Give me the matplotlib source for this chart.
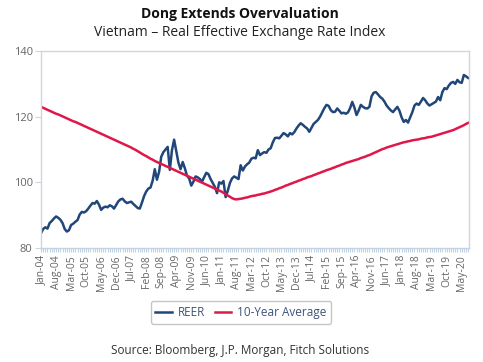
import matplotlib.pyplot as plt
from matplotlib.ticker import MultipleLocator

# monthly data, Jan-04 .. Aug-20
reer = [84.5, 85.8, 86.3, 85.9, 87.6, 88.2, 89.0, 89.6, 89.2, 88.6,
        87.6, 85.8, 85.0, 85.4, 87.0, 87.4, 88.0, 88.5, 90.2, 91.0,
        90.8, 91.2, 92.0, 92.9, 93.7, 93.5, 94.3, 93.2, 91.6, 92.3,
        92.6, 92.4, 93.0, 92.7, 92.0, 93.1, 94.2, 94.8, 95.0, 94.2,
        93.7, 93.9, 94.1, 93.4, 92.8, 92.2, 92.0, 93.8, 95.8, 97.2,
        98.1, 98.4, 100.5, 104.0, 100.8, 103.2, 107.8, 109.2, 110.0, 110.8,
        103.8, 109.8, 113.0, 109.5, 106.0, 104.0, 106.2, 104.3, 102.0, 101.2,
        99.0, 100.2, 101.8, 101.5, 101.0, 100.2, 101.6, 102.9, 102.5, 101.0,
        99.8, 98.6, 96.7, 100.0, 99.6, 100.4, 95.5, 97.4, 99.8, 101.2,
        101.8, 101.4, 101.0, 105.2, 103.6, 104.8, 105.5, 106.0, 107.2, 107.5,
        107.3, 109.8, 108.3, 108.8, 109.2, 109.0, 110.0, 110.4, 112.2, 113.5,
        113.6, 113.4, 114.2, 115.0, 114.6, 114.0, 115.0, 114.6, 115.3, 116.4,
        117.3, 118.0, 117.5, 116.9, 116.4, 115.4, 116.6, 117.8, 118.4, 119.0,
        120.0, 121.3, 122.6, 123.6, 123.3, 122.0, 121.4, 121.5, 122.5, 121.8,
        121.0, 121.2, 120.9, 121.3, 122.6, 124.5, 122.8, 120.5, 121.9, 123.6,
        123.0, 122.6, 122.5, 123.0, 126.2, 127.3, 127.5, 126.8, 126.0, 125.5,
        124.6, 123.4, 122.6, 121.9, 121.4, 122.2, 123.0, 121.8, 119.8, 118.4,
        119.0, 118.2, 119.8, 121.4, 123.4, 124.0, 123.6, 124.6, 125.7, 125.0,
        124.0, 123.4, 123.8, 124.2, 124.6, 126.0, 125.0, 127.5, 128.7, 128.4,
        129.5, 130.3, 130.6, 130.0, 131.2, 130.5, 130.3, 132.7, 132.3, 131.8]

avg10 = [123.0, 122.7, 122.4, 122.1, 121.8, 121.5, 121.2, 120.9, 120.7, 120.4,
         120.1, 119.8, 119.5, 119.2, 118.9, 118.6, 118.4, 118.1, 117.8, 117.5,
         117.2, 116.9, 116.6, 116.3, 116.0, 115.7, 115.4, 115.1, 114.8, 114.5,
         114.2, 113.9, 113.6, 113.3, 113.0, 112.7, 112.4, 112.1, 111.8, 111.5,
         111.2, 110.9, 110.6, 110.2, 109.9, 109.5, 109.1, 108.7, 108.3, 108.0,
         107.6, 107.2, 106.9, 106.5, 106.2, 105.9, 105.6, 105.3, 105.0, 104.7,
         104.4, 104.1, 103.8, 103.5, 103.2, 102.9, 102.6, 102.3, 102.0, 101.7,
         101.4, 101.1, 100.8, 100.5, 100.2, 99.9, 99.6, 99.3, 99.0, 98.7,
         98.4, 98.1, 97.8, 97.5, 97.2, 96.8, 96.4, 96.0, 95.6, 95.2,
         94.9, 94.8, 94.9, 95.0, 95.1, 95.3, 95.4, 95.6, 95.8, 95.9,
         96.0, 96.2, 96.3, 96.5, 96.6, 96.8, 97.0, 97.2, 97.4, 97.7,
         97.9, 98.2, 98.4, 98.7, 99.0, 99.2, 99.5, 99.7, 100.0, 100.2,
         100.5, 100.7, 101.0, 101.2, 101.5, 101.7, 101.9, 102.2, 102.4, 102.7,
         102.9, 103.2, 103.4, 103.7, 103.9, 104.1, 104.4, 104.6, 104.9, 105.1,
         105.4, 105.6, 105.9, 106.1, 106.3, 106.5, 106.7, 106.9, 107.1, 107.4,
         107.6, 107.8, 108.1, 108.3, 108.6, 108.9, 109.2, 109.5, 109.8, 110.1,
         110.3, 110.6, 110.8, 111.0, 111.2, 111.4, 111.6, 111.8, 112.0, 112.2,
         112.3, 112.5, 112.6, 112.8, 112.9, 113.0, 113.1, 113.3, 113.4, 113.5,
         113.7, 113.8, 113.9, 114.1, 114.3, 114.5, 114.7, 114.9, 115.1, 115.3,
         115.5, 115.7, 115.9, 116.2, 116.5, 116.8, 117.1, 117.4, 117.8, 118.1]

tick_labels = ["Jan-04", "Aug-04", "Mar-05", "Oct-05", "May-06", "Dec-06", "Jul-07",
               "Feb-08", "Sep-08", "Apr-09", "Nov-09", "Jun-10", "Jan-11", "Aug-11",
               "Mar-12", "Oct-12", "May-13", "Dec-13", "Jul-14", "Feb-15", "Sep-15",
               "Apr-16", "Nov-16", "Jun-17", "Jan-18", "Aug-18", "Mar-19", "Oct-19",
               "May-20"]

plt.rcParams['font.family'] = ['Open Sans', 'DejaVu Sans']

months = list(range(len(reer)))
navy = "#21467a"
red = "#e0174a"
grey_line = "#cfd6de"
tick_blue = "#c3d3e4"

fig = plt.figure(figsize=(4.83, 3.62), dpi=100)
ax = fig.add_axes([0.085, 0.315, 0.886, 0.544])

ax.plot(months, reer, color=navy, lw=1.8, label="REER")
ax.plot(months, avg10, color=red, lw=1.8, label="10-Year Average")

ax.set_xlim(0, 199.4)
ax.set_ylim(80, 140)
ax.set_yticks([80, 100, 120, 140])
ax.set_xticks(range(0, 7 * len(tick_labels), 7))
ax.set_xticklabels(tick_labels, rotation=90)
ax.xaxis.set_minor_locator(MultipleLocator(1))

for s in ax.spines.values():
    s.set_color(grey_line)
    s.set_linewidth(1)
ax.spines['bottom'].set_color(tick_blue)

ax.tick_params(axis='x', which='both', length=3, color=tick_blue, width=0.8,
               labelsize=7.5, labelcolor="#666666", pad=2)
ax.tick_params(axis='y', length=4, color=grey_line, labelsize=8,
               labelcolor="#666666", pad=2)

leg = ax.legend(loc='upper center', bbox_to_anchor=(0.467, -0.24), ncol=2,
                fontsize=8.5, frameon=True, fancybox=True, handlelength=1.4,
                columnspacing=0.8, handletextpad=0.5, borderpad=0.4)
leg.get_frame().set_edgecolor("#b8b8b8")
for t in leg.get_texts():
    t.set_color("#3d5478")

fig.text(0.497, 0.962, "Dong Extends Overvaluation", ha='center', va='center',
         fontsize=10, fontweight='bold', color="#111111")
fig.text(0.497, 0.91, "Vietnam \u2013 Real Effective Exchange Rate Index", ha='center',
         va='center', fontsize=10, color="#222222")
fig.text(0.497, 0.033, "Source: Bloomberg, J.P. Morgan, Fitch Solutions", ha='center',
         va='center', fontsize=8.5, color="#333333")

fig.savefig("out.png", dpi=100)
